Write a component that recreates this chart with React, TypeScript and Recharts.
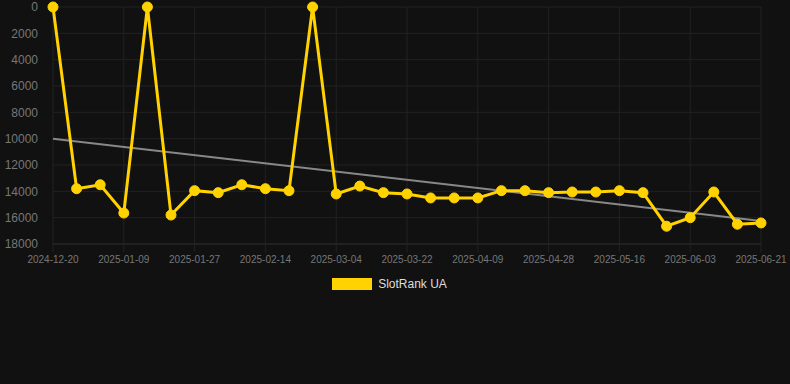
import { LineChart, Line, XAxis, YAxis, CartesianGrid, Legend } from "recharts";

const dates = [
  "2024-12-20", "2024-12-27", "2025-01-03", "2025-01-09", "2025-01-15", "2025-01-21",
  "2025-01-27", "2025-02-02", "2025-02-08", "2025-02-14", "2025-02-20", "2025-02-26",
  "2025-03-04", "2025-03-10", "2025-03-16", "2025-03-22", "2025-03-28", "2025-04-03",
  "2025-04-09", "2025-04-15", "2025-04-21", "2025-04-28", "2025-05-04", "2025-05-10",
  "2025-05-16", "2025-05-22", "2025-05-28", "2025-06-03", "2025-06-09", "2025-06-15",
  "2025-06-21",
];

const rankUA = [
  0, 13800, 13500, 15650, 0, 15800,
  13950, 14100, 13500, 13800, 13950, 0,
  14200, 13600, 14100, 14200, 14500, 14500,
  14500, 13950, 13950, 14100, 14050, 14050,
  13950, 14100, 16650, 16000, 14050, 16500,
  16400,
];

// trend line endpoints (first and last date)
const trendStart = 10000;
const trendEnd = 16250;

const yTicks = [0, 2000, 4000, 6000, 8000, 10000, 12000, 14000, 16000, 18000];

const data = dates.map((d, i) => ({
  date: d,
  rank: rankUA[i],
  trend: i === 0 ? trendStart : i === dates.length - 1 ? trendEnd : null,
}));

export default function App() {
  return (
    <div style={{ position: "absolute", left: 0, top: 0, width: 790, height: 384, background: "#111111", fontFamily: "Arial, 'Liberation Sans', sans-serif" }}>
      <LineChart width={790} height={384} data={data} margin={{ top: 7, right: 29, left: 0, bottom: 96 }}>
        <CartesianGrid stroke="#222222" strokeWidth={1} />
        <XAxis
          dataKey="date"
          interval={2}
          tick={{ fill: "#777777", fontSize: 10 }}
          tickLine={{ stroke: "#222222" }}
          axisLine={{ stroke: "#2a2a2a" }}
          tickSize={8}
          tickMargin={4}
          height={30}
        />
        <YAxis
          reversed
          domain={[0, 18000]}
          ticks={yTicks}
          interval={0}
          width={53}
          tick={{ fill: "#777777", fontSize: 12 }}
          axisLine={false}
          tickLine={false}
          tickMargin={9}
        />
        <Legend
          verticalAlign="bottom"
          wrapperStyle={{ top: 277 }}
          content={() => (
            <div style={{ display: "flex", justifyContent: "center", alignItems: "center", fontSize: 12, color: "#dddddd", paddingLeft: 18 }}>
              <span style={{ display: "inline-block", width: 40, height: 12, background: "#ffd200", marginRight: 6 }} />
              <span>SlotRank UA</span>
            </div>
          )}
        />
        <Line
          dataKey="trend"
          stroke="#888888"
          strokeWidth={2}
          dot={false}
          connectNulls
          legendType="none"
          isAnimationActive={false}
        />
        <Line
          dataKey="rank"
          name="SlotRank UA"
          stroke="#ffd200"
          strokeWidth={3}
          dot={{ r: 5, fill: "#ffd200", stroke: "#ffd200", strokeWidth: 1 }}
          activeDot={false}
          isAnimationActive={false}
        />
      </LineChart>
    </div>
  );
}
